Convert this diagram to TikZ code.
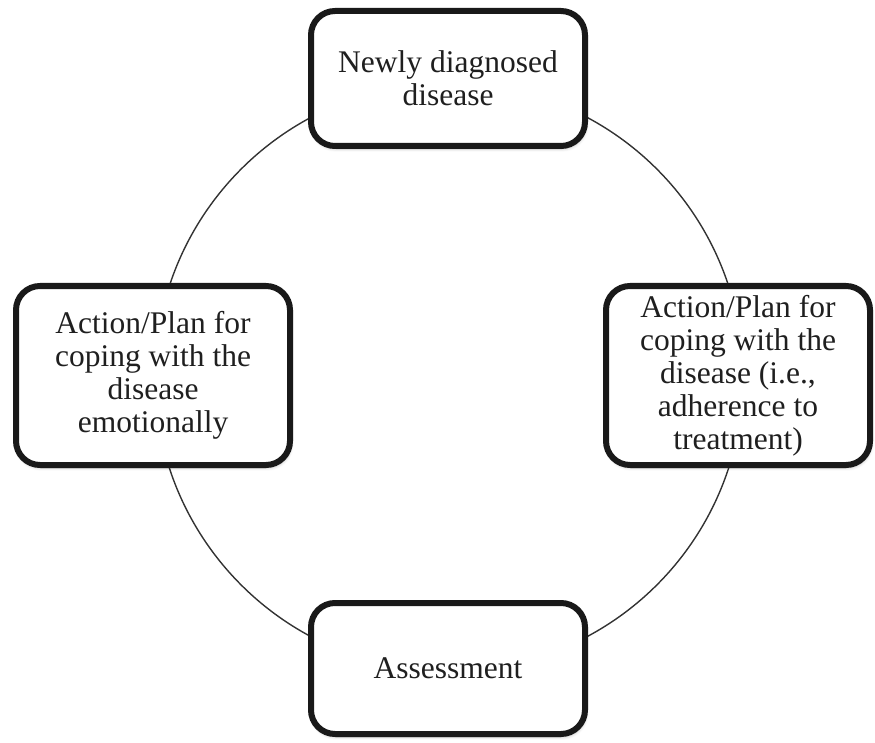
\documentclass[tikz,border=0pt]{standalone}
\usepackage{fontspec}
\setmainfont{Liberation Serif}
\usetikzlibrary{shadows.blur}
\begin{document}
\begin{tikzpicture}[x=1pt,y=-1pt,
  stagebox/.style={draw=black!90, line width=6pt, rounded corners=24pt,
    fill=white, align=center, text=black!88,
    font=\fontsize{31.5}{33}\selectfont,
    blur shadow={shadow xshift=1pt, shadow yshift=-3pt, shadow opacity=25, shadow blur steps=6, shadow blur radius=3pt}},
  ring/.style={draw=black!80, line width=1.4pt}]
  \useasboundingbox (0,0) rectangle (875,743);
  % cycle ring behind the stages
  \coordinate (hub) at (449,377);
  \draw[ring] (hub) circle[radius=294];
  % the four stages of the cycle
  \node[stagebox, minimum width=274pt, minimum height=135pt] (diag) at (448,78.5)
    {Newly diagnosed\\disease};
  \node[stagebox, minimum width=274pt, minimum height=179pt] (emo) at (153,375.5)
    {Action/Plan for\\coping with the\\disease\\emotionally};
  \node[stagebox, minimum width=264pt, minimum height=179pt] (treat) at (738,375.5)
    {Action/Plan for\\coping with the\\disease (i.e.,\\adherence to\\treatment)};
  \node[stagebox, minimum width=274pt, minimum height=131pt] (assess) at (448,668.5)
    {Assessment};
\end{tikzpicture}
\end{document}
